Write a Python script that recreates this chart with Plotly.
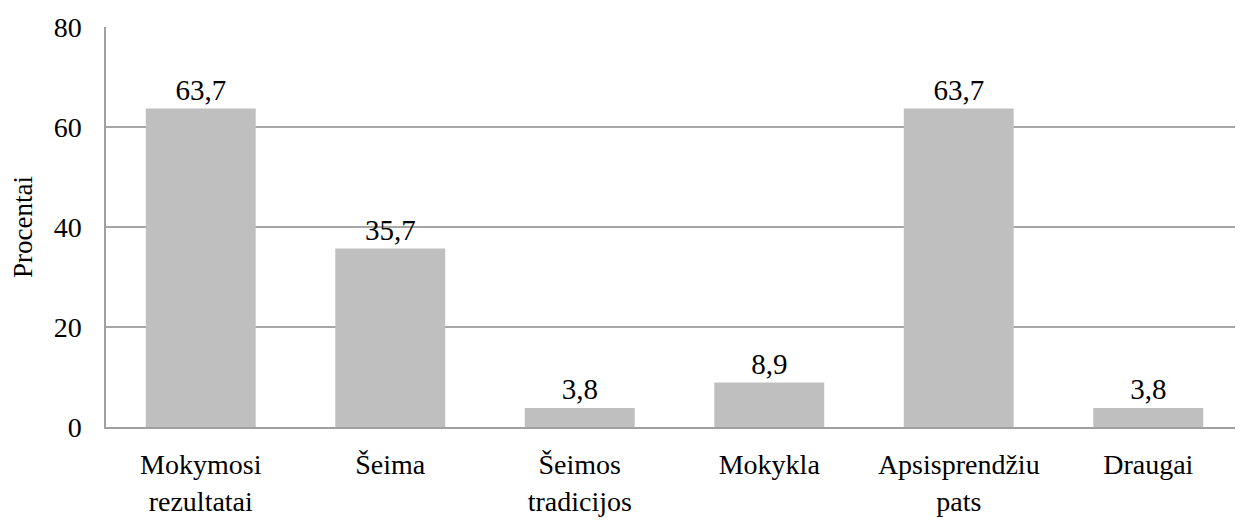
import plotly.graph_objects as go

categories = ["Mokymosi<br>rezultatai", "Šeima", "Šeimos<br>tradicijos", "Mokykla", "Apsisprendžiu<br>pats", "Draugai"]
values = [63.7, 35.7, 3.8, 8.9, 63.7, 3.8]
y_ticks = [0, 20, 40, 60, 80]

font = "Times New Roman"

fig = go.Figure(go.Bar(
    x=categories, y=values,
    marker=dict(color="#BFBFBF", line=dict(width=0)),
    text=[f"{v:.1f}".replace(".", ",") for v in values],
    textposition="outside", cliponaxis=False,
    textfont=dict(family=font, size=29, color="#000000"),
))
# page body has an 8px margin, so the figure is offset by 8px
fig.update_layout(
    width=1235, height=512,
    margin=dict(l=98, r=0, t=19, b=93),
    plot_bgcolor="white", paper_bgcolor="white",
    bargap=0.42, showlegend=False,
    font=dict(family=font, size=28, color="#000000"),
    separators=", ",
)
fig.update_xaxes(
    showline=True, linecolor="#A0A0A0", linewidth=1.5, mirror=False, automargin=False,
    ticks="", ticklabelstandoff=12, tickfont=dict(family=font, size=28),
)
fig.update_yaxes(
    range=[0, 80], tickvals=y_ticks, showgrid=True, gridcolor="#A6A6A6", gridwidth=1.5,
    showline=True, linecolor="#A0A0A0", linewidth=1.5, zeroline=False, automargin=False,
    ticks="", ticklabelstandoff=17, tickfont=dict(family=font, size=28),
    title=dict(text="Procentai", font=dict(family=font, size=27), standoff=14),
)
fig.write_html("out.html")
